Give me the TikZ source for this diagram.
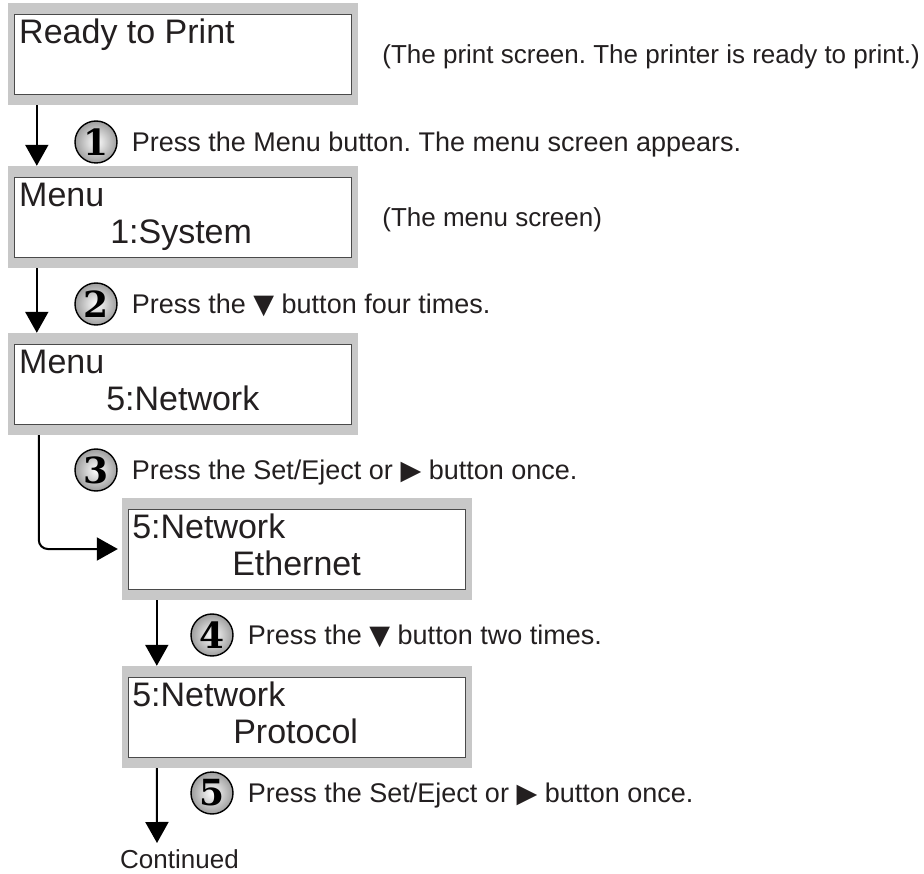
\documentclass[tikz,border=0pt]{standalone}
\usepackage{fontspec}
\setmainfont{Liberation Sans}
\newfontfamily\numfont{DejaVu Serif}
\newfontfamily\symfont{DejaVu Sans}
\usetikzlibrary{arrows.meta,positioning}
\definecolor{lcdgray}{HTML}{C8C8C8}
\definecolor{framegray}{HTML}{4A4A4A}
\definecolor{inkgray}{HTML}{231F20}

\tikzset{
  lcdframe/.style={fill=lcdgray, minimum width=350pt, minimum height=102pt, inner sep=0},
  lcd/.style={draw=framegray, line width=0.9pt, fill=white, minimum width=337pt, minimum height=80pt, inner sep=0},
  lcdtext/.style={anchor=base west, inner sep=0, font=\fontsize{34}{40}\selectfont, text=inkgray},
  stepnum/.style={circle, draw=black, line width=1.4pt, shade, inner color=white, outer color=black!38,
    minimum size=42pt, inner sep=0, font=\numfont\bfseries\fontsize{36}{36}\selectfont},
  steptext/.style={anchor=west, inner sep=0, text height=19pt, text depth=0pt, font=\frenchspacing\fontsize{27}{30}\selectfont, text=inkgray},
  notetext/.style={steptext, font=\frenchspacing\fontsize{26}{30}\selectfont},
  flow/.style={line width=2pt, -{Triangle[length=21pt,width=23pt]}},
}

\begin{document}
\begin{tikzpicture}[x=1pt, y=-1pt]
  \useasboundingbox (0,0) rectangle (924,874);

  % the five screens
  \foreach \i/\x/\y in {1/183/54, 2/183/217, 3/183/384, 4/297/549, 5/297/717}{
    \node[lcdframe] (f\i) at (\x,\y) {};
    \node[lcd] (s\i) at (f\i) {};
  }

  \node[lcdtext] (l1a) at ([xshift=5pt,yshift=-30pt]s1.north west) {Ready to Print};
  \node[lcdtext] (l2a) at ([xshift=5pt,yshift=-30pt]s2.north west) {Menu};
  \node[lcdtext] (l2b) at ([xshift=96pt,yshift=-67pt]s2.north west) {1:System};
  \node[lcdtext] (l3a) at ([xshift=5pt,yshift=-30pt]s3.north west) {Menu};
  \node[lcdtext] (l3b) at ([xshift=92pt,yshift=-67pt]s3.north west) {5:Network};
  \node[lcdtext] (l4a) at ([xshift=4pt,yshift=-30pt]s4.north west) {5:Network};
  \node[lcdtext] (l4b) at ([xshift=104pt,yshift=-67pt]s4.north west) {Ethernet};
  \node[lcdtext] (l5a) at ([xshift=4pt,yshift=-30pt]s5.north west) {5:Network};
  \node[lcdtext] (l5b) at ([xshift=105pt,yshift=-67pt]s5.north west) {Protocol};

  \node[notetext, right=24pt of f1] (c1) {(The print screen. The printer is ready to print.)};
  \node[notetext, right=24pt of f2] (c2) {(The menu screen)};

  % steps
  \node[stepnum] (n1) at (96,142) {1};
  \node[steptext, right=14pt of n1] (t1) {Press the Menu button. The menu screen appears.};
  \node[stepnum] (n2) at (96,304) {2};
  \node[steptext, right=14pt of n2] (t2) {Press the {\symfont ▼} button four times.};
  \node[stepnum] (n3) at (96,470) {3};
  \node[steptext, right=14pt of n3] (t3) {Press the Set/Eject or {\symfont ▶} button once.};
  \node[stepnum] (n4) at (212,635) {4};
  \node[steptext, right=14pt of n4] (t4) {Press the {\symfont ▼} button two times.};
  \node[stepnum] (n5) at (212,793) {5};
  \node[steptext, right=14pt of n5] (t5) {Press the Set/Eject or {\symfont ▶} button once.};

  \node[anchor=north west, inner sep=0, font=\fontsize{26}{30}\selectfont, text=inkgray] (cont) at (120,849) {Continued};

  % arrows
  \draw[flow] ([xshift=29pt]f1.south west) -- ([xshift=29pt]f2.north west);
  \draw[flow] ([xshift=29pt]f2.south west) -- ([xshift=29pt]f3.north west);
  \draw[flow, rounded corners=9pt, shorten >=4pt] ([xshift=31pt]f3.south west) |- (f4.west);
  \draw[flow] ([xshift=35pt]f4.south west) -- ([xshift=35pt]f5.north west);
  \draw[flow] ([xshift=35pt]f5.south west) -- ([xshift=37pt,yshift=6pt]cont.north west);
\end{tikzpicture}
\end{document}
